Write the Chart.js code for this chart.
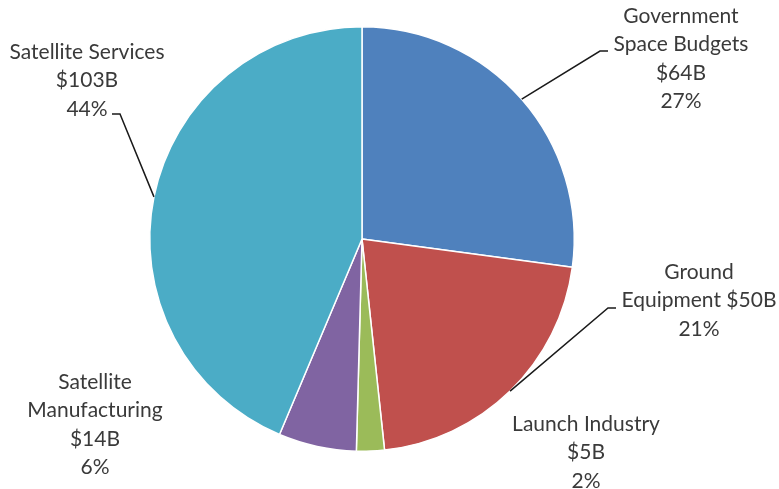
<!DOCTYPE html>
<html>
<head>
<meta charset="utf-8">
<script src="https://cdn.jsdelivr.net/npm/chart.js@4/dist/chart.umd.min.js"></script>
<style>
  html, body { margin: 0; padding: 0; background: #fff; }
  #wrap { width: 779px; height: 489px; }
</style>
</head>
<body>
<div id="wrap"><canvas id="chart" width="779" height="489"></canvas></div>
<script>
// Dati del grafico
const categorie = ['Government Space Budgets', 'Ground Equipment', 'Launch Industry', 'Satellite Manufacturing', 'Satellite Services'];
const valori = [64, 50, 5, 14, 103];          // miliardi di $
const percentuali = ['27%', '21%', '2%', '6%', '44%'];
const colori = ['#4F81BD', '#C0504D', '#9BBB59', '#8064A2', '#4BACC6'];

// Testo delle etichette (righe) e posizione del centro del blocco di testo
const righeEtichette = [
    ['Government', 'Space Budgets', '$64B', '27%'],
    ['Ground', 'Equipment $50B', '21%'],
    ['Launch Industry', '$5B', '2%'],
    ['Satellite', 'Manufacturing', '$14B', '6%'],
    ['Satellite Services', '$103B', '44%']
];
const layoutEtichette = [
    { x: 681, y: 16,  leader: { x: 600, y: 51, side: 'right' } },
    { x: 699, y: 272, leader: { x: 608, y: 308, side: 'right' } },
    { x: 586, y: 424, leader: null },
    { x: 95,  y: 382, leader: null },
    { x: 87,  y: 52,  leader: { x: 120, y: 114, side: 'left' } }
];

// Plugin per etichette esterne con linee guida
const etichettePlugin = {
    id: 'etichette',
    afterDraw(chart) {
        const ctx = chart.ctx;
        const meta = chart.getDatasetMeta(0);
        ctx.save();
        meta.data.forEach((arc, i) => {
            const lay = layoutEtichette[i];
            if (lay.leader) {
                const mid = (arc.startAngle + arc.endAngle) / 2;
                const sx = arc.x + Math.cos(mid) * arc.outerRadius;
                const sy = arc.y + Math.sin(mid) * arc.outerRadius;
                const dx = lay.leader.side === 'right' ? 8 : -8;
                ctx.strokeStyle = '#1a1a1a';
                ctx.lineWidth = 1.5;
                ctx.beginPath();
                ctx.moveTo(sx, sy);
                ctx.lineTo(lay.leader.x, lay.leader.y);
                ctx.lineTo(lay.leader.x + dx, lay.leader.y);
                ctx.stroke();
            }
            ctx.fillStyle = '#3a3a3a';
            ctx.font = '21px Lato, "Open Sans", sans-serif';
            ctx.textAlign = 'center';
            ctx.textBaseline = 'middle';
            righeEtichette[i].forEach((riga, k) => {
                ctx.fillText(riga, lay.x, lay.y + k * 28.5);
            });
        });
        ctx.restore();
    }
};

const data = {
    labels: categorie,
    datasets: [{
        data: valori,
        backgroundColor: colori,
        borderColor: '#ffffff',
        borderWidth: 1.5
    }]
};

const config = {
    type: 'pie',
    data,
    options: {
        responsive: false,
        animation: false,
        layout: {
            padding: { left: 100, right: 155, top: 26, bottom: 37 }
        },
        plugins: {
            legend: { display: false },
            tooltip: { enabled: false }
        }
    },
    plugins: [etichettePlugin]
};

const myChart = new Chart(document.getElementById('chart'), config);
</script>
</body>
</html>
